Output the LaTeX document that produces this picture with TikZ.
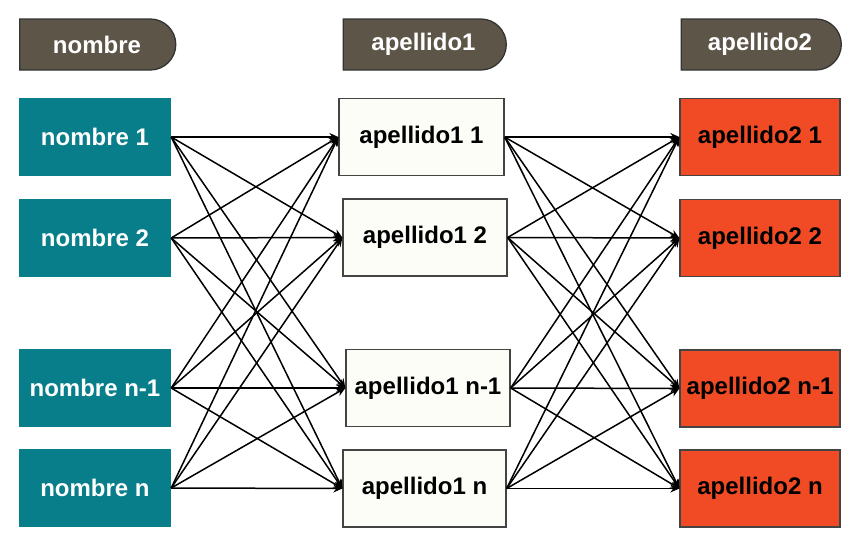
\documentclass[tikz,border=0pt]{standalone}
\usepackage{fontspec}
\setmainfont{Liberation Sans}
\usetikzlibrary{shapes.misc,arrows.meta}
\definecolor{hdrfill}{HTML}{5E5549}
\definecolor{tealbox}{HTML}{077E8A}
\definecolor{ivory}{HTML}{FDFDF7}
\definecolor{orangebox}{HTML}{F04B24}
\definecolor{edgegray}{HTML}{444444}
\begin{document}
\begin{tikzpicture}[x=1pt,y=-1pt,
  every node/.style={font=\fontsize{24}{28}\selectfont\bfseries, inner sep=0pt},
  hdr/.style={rounded rectangle, rounded rectangle left arc=none, fill=hdrfill, draw=black!80, line width=1.3pt, text=white, minimum height=51pt},
  nbox/.style={rectangle, fill=tealbox, text=white, minimum width=152pt, minimum height=78pt},
  abox/.style={rectangle, fill=ivory, draw=edgegray, line width=1.3pt, text=black, minimum height=77pt},
  bbox/.style={rectangle, fill=orangebox, draw=edgegray, line width=1.3pt, text=black, minimum width=160pt, minimum height=77pt},
  conn/.style={line width=1.5pt, -{Stealth[length=9pt,width=8pt]}}
]
\useasboundingbox (0,0) rectangle (860,546);
\node[hdr, minimum width=156pt] (h1) at (97,44.5) {nombre};
\node[hdr, minimum width=163pt] (h2) at (423.5,44.5) {apellido1};
\node[hdr, minimum width=160pt] (h3) at (760,44.5) {apellido2};

\node[nbox] (n1) at (95,137) {nombre 1};
\node[nbox] (n2) at (95,238) {nombre 2};
\node[nbox] (n3) at (95,388) {nombre n-1};
\node[nbox] (n4) at (95,488) {nombre n};

\node[abox, minimum width=165pt] (a1) at (421.5,137) {apellido1 1};
\node[abox, minimum width=164pt] (a2) at (425,237.5) {apellido1 2};
\node[abox, minimum width=164pt] (a3) at (428,388) {apellido1 n-1};
\node[abox, minimum width=163pt] (a4) at (424.5,488.5) {apellido1 n};

\node[bbox] (b1) at (760,137) {apellido2 1};
\node[bbox] (b2) at (760,238) {apellido2 2};
\node[bbox] (b3) at (760,388.5) {apellido2 n-1};
\node[bbox] (b4) at (760,488.5) {apellido2 n};

\foreach \i in {1,...,4}{
  \foreach \j in {1,...,4}{
    \draw[conn] (n\i.east) -- (a\j.west);
    \draw[conn] (a\i.east) -- (b\j.west);
  }
}
\end{tikzpicture}
\end{document}
